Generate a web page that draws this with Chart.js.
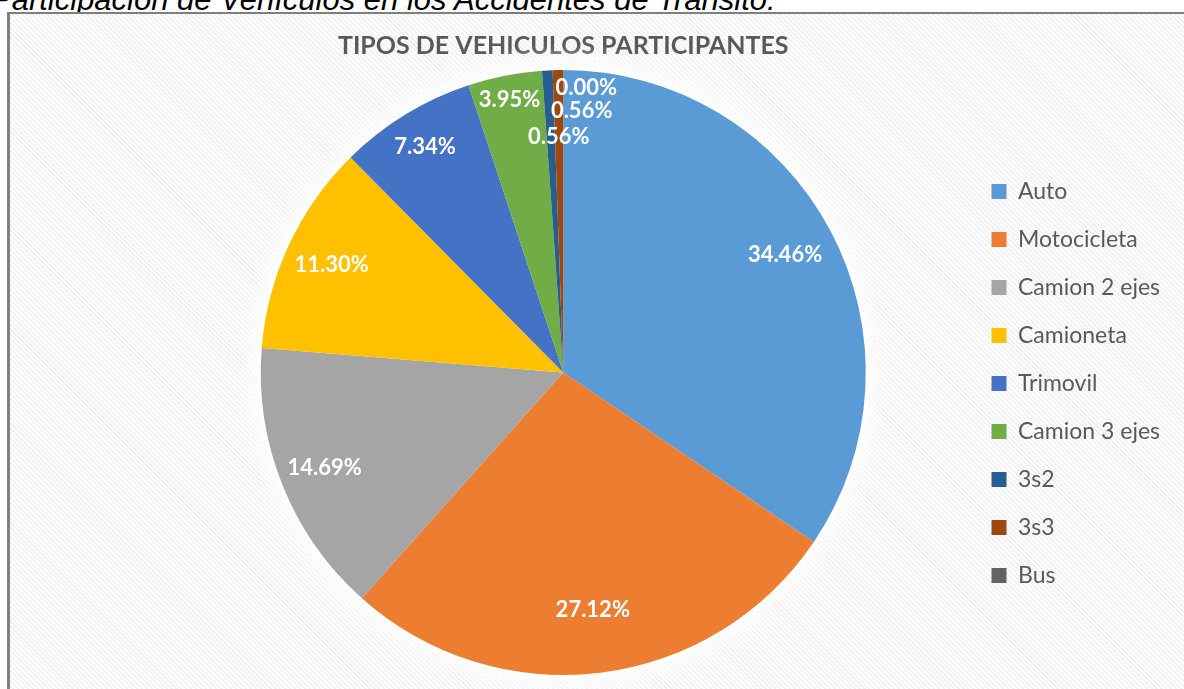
<!DOCTYPE html>
<html>
<head>
<meta charset="utf-8">
<script src="https://cdn.jsdelivr.net/npm/chart.js@4/dist/chart.umd.min.js"></script>
<style>
    html, body { margin: 0; padding: 0; background: #fff; overflow: hidden; }
    body { width: 1184px; height: 689px; position: relative; }
    .caption {
        position: absolute; left: -9px; top: -18px; white-space: nowrap;
        font: italic 31px "Liberation Sans", Arial, sans-serif; color: #000;
    }
    .frame {
        position: absolute; left: 7px; top: 12px; width: 1200px; height: 700px;
        border-left: 3px solid #7f7f7f; border-top: 2px solid #7f7f7f;
        background: repeating-linear-gradient(45deg, #ffffff 0px, #ffffff 2px, #f0f0f0 2px, #f0f0f0 3.5px);
    }
    #chart { position: absolute; left: 10px; top: 14px; }
</style>
</head>
<body>
<div class="caption">Participación de Vehículos en los Accidentes de Tránsito.</div>
<div class="frame"></div>
<canvas id="chart" width="1174" height="675"></canvas>
<script>
    "use strict";

    // Data
    var categories = ["Auto", "Motocicleta", "Camion 2 ejes", "Camioneta", "Trimovil", "Camion 3 ejes", "3s2", "3s3", "Bus"];
    var percents = [34.46, 27.12, 14.69, 11.30, 7.34, 3.95, 0.56, 0.56, 0.00];
    var colors = ["#5B9BD5", "#ED7D31", "#A5A5A5", "#FFC000", "#4472C4", "#70AD47", "#255E91", "#9E480E", "#636363"];

    // label placement (fraction of radius, sideways nudge) - tiny slices are spread out like Excel does
    var labelRadius = [0.83, 0.79, 0.85, 0.845, 0.875, 0.92, 0.78, 0.865, 0.94];
    var labelNudge = [0, 0, 0, 0, 0, 0, 8, 23, 23];

    // soft white glow behind the pie
    var pieGlow = {
        id: "pieGlow",
        beforeDatasetsDraw: function (chart) {
            var arc = chart.getDatasetMeta(0).data[0];
            if (!arc) return;
            var ctx = chart.ctx;
            ctx.save();
            ctx.fillStyle = "#ffffff";
            ctx.shadowColor = "rgba(255,255,255,1)";
            ctx.shadowBlur = 25;
            ctx.beginPath();
            ctx.arc(arc.x, arc.y, arc.outerRadius + 2, 0, Math.PI * 2);
            ctx.fill();
            ctx.fill();
            ctx.restore();
        }
    };

    var pieLabels = {
        id: "pieLabels",
        afterDatasetsDraw: function (chart) {
            var ctx = chart.ctx;
            var meta = chart.getDatasetMeta(0);
            ctx.save();
            ctx.font = "bold 22px Lato";
            ctx.fillStyle = "#ffffff";
            ctx.textAlign = "center";
            ctx.textBaseline = "middle";
            meta.data.forEach(function (arc, i) {
                var p = arc.getProps(["x", "y", "startAngle", "endAngle", "outerRadius"], true);
                var mid = (p.startAngle + p.endAngle) / 2;
                var r = p.outerRadius * labelRadius[i];
                var x = p.x + Math.cos(mid) * r + labelNudge[i];
                var y = p.y + Math.sin(mid) * r;
                ctx.fillText(percents[i].toFixed(2) + "%", x, y);
            });
            ctx.restore();
        }
    };

    var ctx1 = document.getElementById("chart").getContext("2d");
    var myChart = new Chart(ctx1, {
        type: "pie",
        data: {
            labels: categories,
            datasets: [{
                data: percents,
                backgroundColor: colors,
                borderWidth: 0
            }]
        },
        options: {
            responsive: false,
            animation: false,
            devicePixelRatio: 1,
            layout: { padding: { left: 150, right: 14, top: 0, bottom: 14 } },
            plugins: {
                title: {
                    display: true,
                    text: "TIPOS DE VEHICULOS PARTICIPANTES",
                    color: "#595959",
                    font: { family: "Lato", size: 25, weight: "bold" },
                    padding: { top: 17, bottom: 9 },
                    fullSize: false
                },
                legend: {
                    position: "right",
                    title: { display: true, text: " ", padding: { top: 30, bottom: 0 }, font: { size: 40 } },
                    labels: {
                        color: "#595959",
                        font: { family: "Lato", size: 23 },
                        boxWidth: 15,
                        boxHeight: 15,
                        padding: 25
                    }
                },
                tooltip: { enabled: false }
            }
        },
        plugins: [pieGlow, pieLabels]
    });
</script>
</body>
</html>
